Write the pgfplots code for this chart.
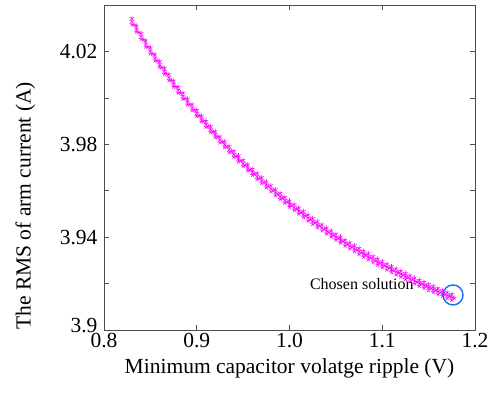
\documentclass[border=0pt]{standalone}
\usepackage{pgfplots}
\usepackage{pgfplotstable}
\pgfplotsset{compat=1.18}
\usepackage{fontspec}
\setmainfont{Liberation Serif}
\definecolor{mag}{RGB}{255,0,255}
\definecolor{cblue}{RGB}{20,110,230}
\pgfplotstableread{
x y ya yb xa yd
0.830 4.0330 4.0343 4.0317 0.8325 4.0314
0.835 4.0298 4.0311 4.0285 0.8375 4.0282
0.840 4.0266 4.0279 4.0253 0.8425 4.0250
0.845 4.0234 4.0247 4.0221 0.8475 4.0219
0.850 4.0204 4.0217 4.0191 0.8525 4.0189
0.855 4.0174 4.0187 4.0161 0.8575 4.0160
0.860 4.0145 4.0158 4.0132 0.8625 4.0131
0.865 4.0116 4.0129 4.0103 0.8675 4.0103
0.870 4.0089 4.0102 4.0076 0.8725 4.0075
0.875 4.0061 4.0074 4.0048 0.8775 4.0048
0.880 4.0035 4.0048 4.0022 0.8825 4.0022
0.885 4.0009 4.0022 3.9996 0.8875 3.9997
0.890 3.9984 3.9997 3.9971 0.8925 3.9972
0.895 3.9959 3.9972 3.9946 0.8975 3.9947
0.900 3.9935 3.9948 3.9922 0.9025 3.9923
0.905 3.9911 3.9924 3.9898 0.9075 3.9900
0.910 3.9888 3.9901 3.9875 0.9125 3.9877
0.915 3.9865 3.9878 3.9852 0.9175 3.9854
0.920 3.9843 3.9856 3.9830 0.9225 3.9832
0.925 3.9821 3.9834 3.9808 0.9275 3.9811
0.930 3.9800 3.9813 3.9787 0.9325 3.9790
0.935 3.9779 3.9792 3.9766 0.9375 3.9769
0.940 3.9758 3.9771 3.9745 0.9425 3.9749
0.945 3.9739 3.9752 3.9726 0.9475 3.9729
0.950 3.9719 3.9732 3.9706 0.9525 3.9710
0.955 3.9700 3.9713 3.9687 0.9575 3.9691
0.960 3.9681 3.9694 3.9668 0.9625 3.9672
0.965 3.9663 3.9676 3.9650 0.9675 3.9654
0.970 3.9645 3.9658 3.9632 0.9725 3.9636
0.975 3.9627 3.9640 3.9614 0.9775 3.9619
0.980 3.9610 3.9623 3.9597 0.9825 3.9602
0.985 3.9593 3.9606 3.9580 0.9875 3.9585
0.990 3.9577 3.9590 3.9564 0.9925 3.9569
0.995 3.9560 3.9573 3.9547 0.9975 3.9552
1.000 3.9544 3.9557 3.9531 1.0025 3.9537
1.005 3.9529 3.9542 3.9516 1.0075 3.9522
1.010 3.9514 3.9527 3.9501 1.0125 3.9507
1.015 3.9499 3.9512 3.9486 1.0175 3.9492
1.020 3.9484 3.9497 3.9471 1.0225 3.9477
1.025 3.9469 3.9482 3.9456 1.0275 3.9462
1.030 3.9455 3.9468 3.9442 1.0325 3.9449
1.035 3.9442 3.9455 3.9429 1.0375 3.9435
1.040 3.9428 3.9441 3.9415 1.0425 3.9422
1.045 3.9415 3.9428 3.9402 1.0475 3.9409
1.050 3.9402 3.9415 3.9389 1.0525 3.9396
1.055 3.9389 3.9402 3.9376 1.0575 3.9383
1.060 3.9376 3.9389 3.9363 1.0625 3.9370
1.065 3.9364 3.9377 3.9351 1.0675 3.9358
1.070 3.9352 3.9365 3.9339 1.0725 3.9346
1.075 3.9340 3.9353 3.9327 1.0775 3.9334
1.080 3.9328 3.9341 3.9315 1.0825 3.9323
1.085 3.9317 3.9330 3.9304 1.0875 3.9311
1.090 3.9305 3.9318 3.9292 1.0925 3.9300
1.095 3.9294 3.9307 3.9281 1.0975 3.9289
1.100 3.9283 3.9296 3.9270 1.1025 3.9278
1.105 3.9273 3.9286 3.9260 1.1075 3.9268
1.110 3.9262 3.9275 3.9249 1.1125 3.9257
1.115 3.9252 3.9265 3.9239 1.1175 3.9247
1.120 3.9242 3.9255 3.9229 1.1225 3.9237
1.125 3.9232 3.9245 3.9219 1.1275 3.9227
1.130 3.9222 3.9235 3.9209 1.1325 3.9218
1.135 3.9213 3.9226 3.9200 1.1375 3.9208
1.140 3.9203 3.9216 3.9190 1.1425 3.9199
1.145 3.9194 3.9207 3.9181 1.1475 3.9190
1.150 3.9185 3.9198 3.9172 1.1525 3.9181
1.155 3.9176 3.9189 3.9163 1.1575 3.9172
1.160 3.9167 3.9180 3.9154 1.1625 3.9163
1.165 3.9159 3.9172 3.9146 1.1675 3.9155
1.170 3.9150 3.9163 3.9137 1.1725 3.9146
1.175 3.9142 3.9155 3.9129 1.1775 3.9138
}\pareto
\begin{document}
\begin{tikzpicture}
\useasboundingbox (-104pt,-65pt) rectangle (384pt,330pt);
\begin{axis}[
  at={(0,0)}, anchor=south west,
  scale only axis, width=371pt, height=325pt,
  xmin=0.8, xmax=1.2, ymin=3.9, ymax=4.04,
  xtick={0.8,0.9,1.0,1.1,1.2},
  xticklabels={\textrm{0.8},\textrm{0.9},\textrm{1.0},\textrm{1.1},\textrm{1.2}},
  ytick={3.9,3.94,3.98,4.02},
  yticklabels={\raisebox{10pt}{\textrm{3.9}},\textrm{3.94},\textrm{3.98},\textrm{4.02}},
  minor ytick={3.92,3.96,4.00},
  tick align=inside,
  major tick length=5pt, minor tick length=5pt,
  axis line style={black!70, line width=0.7pt},
  tick style={black!70, line width=0.6pt},
  /pgf/number format/assume math mode=true,
  ticklabel style={font=\fontsize{21.5}{24}\selectfont\rmfamily},
  yticklabel style={xshift=-3pt},
  label style={font=\fontsize{21.5}{24}\selectfont},
  xlabel={Minimum capacitor volatge ripple (V)},
  ylabel={The RMS of arm current (A)},
  xlabel style={at={(axis description cs:0.5,-0.088)}, anchor=north, inner sep=0pt},
  ylabel style={at={(axis description cs:-0.185,0.382)}, anchor=south, inner sep=0pt},
  clip=false,
]
\addplot[only marks, mark=star, mark size=2.4pt, mag, line width=0.55pt] table[x=x,y=ya] {\pareto};
\addplot[only marks, mark=star, mark size=2.4pt, mag, line width=0.55pt] table[x=x,y=yb] {\pareto};
\addplot[only marks, mark=star, mark size=2.4pt, mag, line width=0.55pt] table[x=x,y=y] {\pareto};
\addplot[only marks, mark=star, mark size=2.4pt, mag, line width=0.55pt] table[x=xa,y=yd] {\pareto};
\addplot[only marks, mark=o, mark size=10pt, cblue, line width=1.4pt] coordinates {(1.1763,3.9151)};
\node[anchor=base, font=\fontsize{16}{18}\selectfont, inner sep=0pt] at (axis cs:1.078,3.9173) {Chosen solution};
\end{axis}
\end{tikzpicture}
\end{document}
